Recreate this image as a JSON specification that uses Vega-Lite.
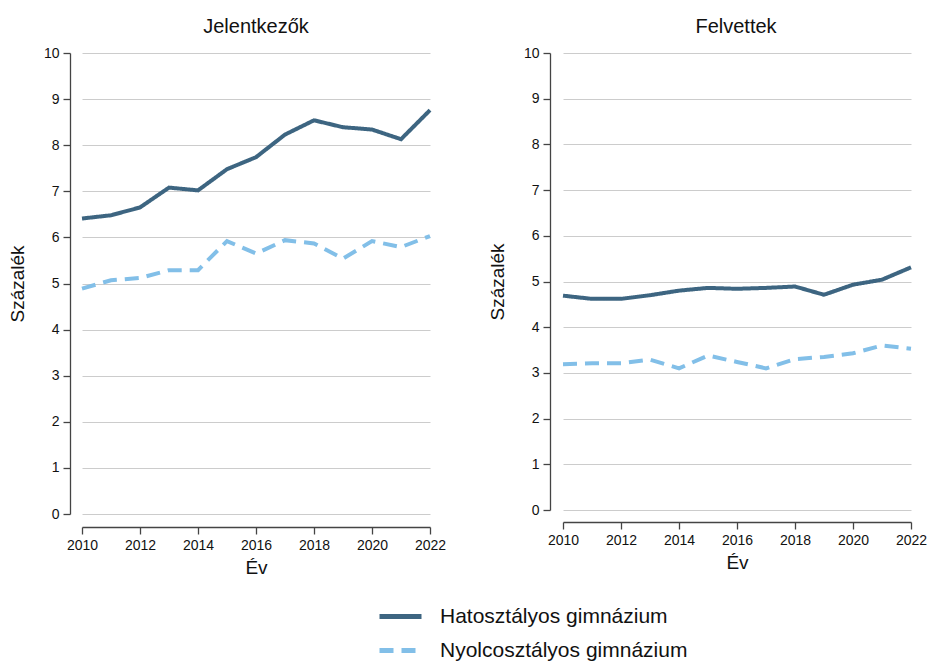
{
  "$schema": "https://vega.github.io/schema/vega-lite/v6.json",
  "background": "white",
  "padding": {"left": 8, "top": 17, "right": 5, "bottom": 0},
  "datasets": {
    "rows": [
      {"panel": "Jelentkezők", "ev": 2010, "tipus": "Hatosztályos gimnázium", "ertek": 6.41},
      {"panel": "Jelentkezők", "ev": 2011, "tipus": "Hatosztályos gimnázium", "ertek": 6.48},
      {"panel": "Jelentkezők", "ev": 2012, "tipus": "Hatosztályos gimnázium", "ertek": 6.65},
      {"panel": "Jelentkezők", "ev": 2013, "tipus": "Hatosztályos gimnázium", "ertek": 7.08},
      {"panel": "Jelentkezők", "ev": 2014, "tipus": "Hatosztályos gimnázium", "ertek": 7.02},
      {"panel": "Jelentkezők", "ev": 2015, "tipus": "Hatosztályos gimnázium", "ertek": 7.48},
      {"panel": "Jelentkezők", "ev": 2016, "tipus": "Hatosztályos gimnázium", "ertek": 7.74},
      {"panel": "Jelentkezők", "ev": 2017, "tipus": "Hatosztályos gimnázium", "ertek": 8.23},
      {"panel": "Jelentkezők", "ev": 2018, "tipus": "Hatosztályos gimnázium", "ertek": 8.54},
      {"panel": "Jelentkezők", "ev": 2019, "tipus": "Hatosztályos gimnázium", "ertek": 8.39},
      {"panel": "Jelentkezők", "ev": 2020, "tipus": "Hatosztályos gimnázium", "ertek": 8.34},
      {"panel": "Jelentkezők", "ev": 2021, "tipus": "Hatosztályos gimnázium", "ertek": 8.13},
      {"panel": "Jelentkezők", "ev": 2022, "tipus": "Hatosztályos gimnázium", "ertek": 8.76},
      {"panel": "Jelentkezők", "ev": 2010, "tipus": "Nyolcosztályos gimnázium", "ertek": 4.89},
      {"panel": "Jelentkezők", "ev": 2011, "tipus": "Nyolcosztályos gimnázium", "ertek": 5.07},
      {"panel": "Jelentkezők", "ev": 2012, "tipus": "Nyolcosztályos gimnázium", "ertek": 5.12},
      {"panel": "Jelentkezők", "ev": 2013, "tipus": "Nyolcosztályos gimnázium", "ertek": 5.29},
      {"panel": "Jelentkezők", "ev": 2014, "tipus": "Nyolcosztályos gimnázium", "ertek": 5.29},
      {"panel": "Jelentkezők", "ev": 2015, "tipus": "Nyolcosztályos gimnázium", "ertek": 5.92},
      {"panel": "Jelentkezők", "ev": 2016, "tipus": "Nyolcosztályos gimnázium", "ertek": 5.65},
      {"panel": "Jelentkezők", "ev": 2017, "tipus": "Nyolcosztályos gimnázium", "ertek": 5.94},
      {"panel": "Jelentkezők", "ev": 2018, "tipus": "Nyolcosztályos gimnázium", "ertek": 5.87},
      {"panel": "Jelentkezők", "ev": 2019, "tipus": "Nyolcosztályos gimnázium", "ertek": 5.54},
      {"panel": "Jelentkezők", "ev": 2020, "tipus": "Nyolcosztályos gimnázium", "ertek": 5.92},
      {"panel": "Jelentkezők", "ev": 2021, "tipus": "Nyolcosztályos gimnázium", "ertek": 5.79},
      {"panel": "Jelentkezők", "ev": 2022, "tipus": "Nyolcosztályos gimnázium", "ertek": 6.03},
      {"panel": "Felvettek", "ev": 2010, "tipus": "Hatosztályos gimnázium", "ertek": 4.69},
      {"panel": "Felvettek", "ev": 2011, "tipus": "Hatosztályos gimnázium", "ertek": 4.62},
      {"panel": "Felvettek", "ev": 2012, "tipus": "Hatosztályos gimnázium", "ertek": 4.62},
      {"panel": "Felvettek", "ev": 2013, "tipus": "Hatosztályos gimnázium", "ertek": 4.70},
      {"panel": "Felvettek", "ev": 2014, "tipus": "Hatosztályos gimnázium", "ertek": 4.80},
      {"panel": "Felvettek", "ev": 2015, "tipus": "Hatosztályos gimnázium", "ertek": 4.86},
      {"panel": "Felvettek", "ev": 2016, "tipus": "Hatosztályos gimnázium", "ertek": 4.84},
      {"panel": "Felvettek", "ev": 2017, "tipus": "Hatosztályos gimnázium", "ertek": 4.86},
      {"panel": "Felvettek", "ev": 2018, "tipus": "Hatosztályos gimnázium", "ertek": 4.89},
      {"panel": "Felvettek", "ev": 2019, "tipus": "Hatosztályos gimnázium", "ertek": 4.71},
      {"panel": "Felvettek", "ev": 2020, "tipus": "Hatosztályos gimnázium", "ertek": 4.93},
      {"panel": "Felvettek", "ev": 2021, "tipus": "Hatosztályos gimnázium", "ertek": 5.04},
      {"panel": "Felvettek", "ev": 2022, "tipus": "Hatosztályos gimnázium", "ertek": 5.31},
      {"panel": "Felvettek", "ev": 2010, "tipus": "Nyolcosztályos gimnázium", "ertek": 3.19},
      {"panel": "Felvettek", "ev": 2011, "tipus": "Nyolcosztályos gimnázium", "ertek": 3.21},
      {"panel": "Felvettek", "ev": 2012, "tipus": "Nyolcosztályos gimnázium", "ertek": 3.21},
      {"panel": "Felvettek", "ev": 2013, "tipus": "Nyolcosztályos gimnázium", "ertek": 3.29},
      {"panel": "Felvettek", "ev": 2014, "tipus": "Nyolcosztályos gimnázium", "ertek": 3.10},
      {"panel": "Felvettek", "ev": 2015, "tipus": "Nyolcosztályos gimnázium", "ertek": 3.38},
      {"panel": "Felvettek", "ev": 2016, "tipus": "Nyolcosztályos gimnázium", "ertek": 3.24},
      {"panel": "Felvettek", "ev": 2017, "tipus": "Nyolcosztályos gimnázium", "ertek": 3.10},
      {"panel": "Felvettek", "ev": 2018, "tipus": "Nyolcosztályos gimnázium", "ertek": 3.30},
      {"panel": "Felvettek", "ev": 2019, "tipus": "Nyolcosztályos gimnázium", "ertek": 3.35},
      {"panel": "Felvettek", "ev": 2020, "tipus": "Nyolcosztályos gimnázium", "ertek": 3.43},
      {"panel": "Felvettek", "ev": 2021, "tipus": "Nyolcosztályos gimnázium", "ertek": 3.60},
      {"panel": "Felvettek", "ev": 2022, "tipus": "Nyolcosztályos gimnázium", "ertek": 3.53}
    ]
  },
  "data": {"name": "rows"},
  "spacing": 42,
  "hconcat": [
    {
      "title": {"text": "Jelentkezők"},
      "width": 372,
      "height": 474,
      "transform": [{"filter": "datum.panel === 'Jelentkezők'"}],
      "mark": {"type": "line", "strokeWidth": 4, "strokeCap": "butt"},
      "encoding": {
        "x": {"field": "ev", "type": "quantitative", "title": "Év",
              "scale": {"domain": [2010, 2022], "range": [12, 360], "nice": false, "zero": false},
              "axis": {"values": [2010, 2012, 2014, 2016, 2018, 2020, 2022], "format": "d", "grid": false}},
        "y": {"field": "ertek", "type": "quantitative", "title": "Százalék",
              "scale": {"domain": [0, 10], "range": [461, 0], "nice": false},
              "axis": {"values": [0, 1, 2, 3, 4, 5, 6, 7, 8, 9, 10], "grid": true}},
        "color": {"field": "tipus", "type": "nominal",
                  "scale": {"domain": ["Hatosztályos gimnázium", "Nyolcosztályos gimnázium"], "range": ["#3d6581", "#82bfe8"]},
                  "legend": {"title": null, "orient": "none", "legendX": 307, "legendY": 540}},
        "strokeDash": {"field": "tipus", "type": "nominal",
                       "scale": {"domain": ["Hatosztályos gimnázium", "Nyolcosztályos gimnázium"], "range": [[1, 0], [14, 8]]},
                       "legend": {"title": null, "orient": "none", "legendX": 307, "legendY": 540}}
      }
    },
    {
      "title": {"text": "Felvettek"},
      "width": 372,
      "height": 469,
      "transform": [{"filter": "datum.panel === 'Felvettek'"}],
      "mark": {"type": "line", "strokeWidth": 4, "strokeCap": "butt"},
      "encoding": {
        "x": {"field": "ev", "type": "quantitative", "title": "Év",
              "scale": {"domain": [2010, 2022], "range": [13, 361], "nice": false, "zero": false},
              "axis": {"values": [2010, 2012, 2014, 2016, 2018, 2020, 2022], "format": "d", "grid": false}},
        "y": {"field": "ertek", "type": "quantitative", "title": "Százalék",
              "scale": {"domain": [0, 10], "range": [457, 0], "nice": false},
              "axis": {"values": [0, 1, 2, 3, 4, 5, 6, 7, 8, 9, 10], "grid": true}},
        "color": {"field": "tipus", "type": "nominal",
                  "scale": {"domain": ["Hatosztályos gimnázium", "Nyolcosztályos gimnázium"], "range": ["#3d6581", "#82bfe8"]},
                  "legend": {"title": null, "orient": "none", "legendX": 307, "legendY": 540}},
        "strokeDash": {"field": "tipus", "type": "nominal",
                       "scale": {"domain": ["Hatosztályos gimnázium", "Nyolcosztályos gimnázium"], "range": [[1, 0], [14, 8]]},
                       "legend": {"title": null, "orient": "none", "legendX": 307, "legendY": 540}}
      }
    }
  ],
  "config": {
    "font": "Liberation Sans",
    "view": {"stroke": null},
    "title": {"fontSize": 20, "fontWeight": "normal", "color": "#111111", "offset": 9, "anchor": "middle"},
    "axis": {
      "labelFontSize": 14, "labelColor": "#111111", "titleFontSize": 19, "titleFontWeight": "normal", "titleColor": "#111111",
      "domainColor": "#444444", "tickColor": "#444444", "tickSize": 7, "domainWidth": 1.3, "tickWidth": 1.3,
      "gridColor": "#cccccc", "gridWidth": 1, "labelFlush": false, "labelOverlap": false
    },
    "axisY": {"labelPadding": 4, "titlePadding": 16},
    "axisX": {"labelPadding": 4, "titlePadding": 6},
    "legend": {
      "direction": "vertical", "symbolType": "stroke", "symbolSize": 1764, "symbolStrokeWidth": 5,
      "labelFontSize": 21, "labelColor": "#111111", "rowPadding": -6, "labelOffset": 16, "labelLimit": 400, "padding": 0
    }
  }
}
